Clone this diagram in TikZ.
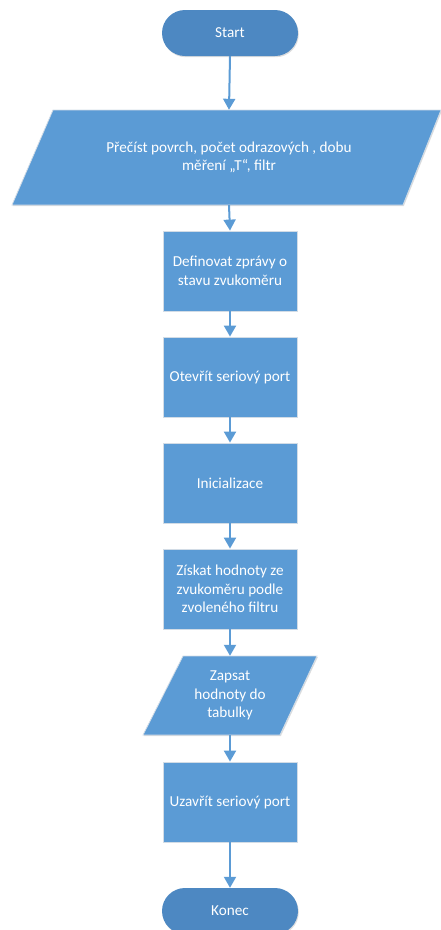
\documentclass[tikz,border=0pt]{standalone}
\usepackage{fontspec}
\setmainfont{Carlito}
\usetikzlibrary{arrows.meta,shadows,positioning}

\definecolor{boxblue}{HTML}{5B9BD5}
\definecolor{termblue}{HTML}{4D88C2}
\definecolor{edgegray}{HTML}{D2DCE6}

\tikzset{
  x=1pt, y=-1pt,
  txt/.style={text=white, font=\fontsize{15.2}{18.5}\selectfont, align=center},
  softshadow/.style={drop shadow={shadow xshift=0.8pt, shadow yshift=-1.2pt, opacity=0.22, fill=black!60}},
  terminal/.style={txt, fill=termblue, rounded corners=23pt, minimum width=136pt,
    minimum height=46pt, inner sep=0pt, softshadow},
  procbox/.style={txt, fill=boxblue, draw=edgegray, line width=0.8pt, minimum width=134pt,
    minimum height=80pt, inner sep=2pt, softshadow},
  iofill/.style={fill=boxblue, draw=edgegray, line width=0.8pt, softshadow},
  iotext/.style={txt, inner sep=0pt},
  flow/.style={draw=boxblue, line width=2pt, -{Triangle[width=12pt,length=11pt]}},
}

\begin{document}
\begin{tikzpicture}
\useasboundingbox (0,0) rectangle (441,930);

% terminals
\node[terminal] (start) at (230,33) {Start};
\node[terminal] (konec) at (230,911) {Konec};

% first input block (parallelogram)
\path[iofill] (53,110) -- (441,110) -- (403,205) -- (12,205) -- cycle;
\node[iotext, minimum height=95pt] (read) at (229,157.5)
  {Přečíst povrch, počet odrazových , dobu\\měření „T“, filtr};

% process steps
\node[procbox] (defs) at (230,271) {Definovat zprávy o\\stavu zvukoměru};
\node[procbox] (open) at (230,377) {Otevřít seriový port};
\node[procbox] (init) at (230,483) {Inicializace};
\node[procbox] (get)  at (230,589) {Získat hodnoty ze\\zvukoměru podle\\zvoleného filtru};

% output block (parallelogram)
\path[iofill] (183,656) -- (317,656) -- (280,735) -- (143,735) -- cycle;
\node[iotext, minimum height=79pt] (write) at (230,695.5) {Zapsat\\hodnoty do\\tabulky};

\node[procbox] (close) at (230,802) {Uzavřít seriový port};

% connectors
\draw[flow] (start.south) -- (read.north);
\draw[flow] (read.south) -- (defs.north);
\draw[flow] (defs.south) -- (open.north);
\draw[flow] (open.south) -- (init.north);
\draw[flow] (init.south) -- (get.north);
\draw[flow] (get.south) -- (write.north);
\draw[flow] (write.south) -- (close.north);
\draw[flow] (close.south) -- (konec.north);
\end{tikzpicture}
\end{document}
